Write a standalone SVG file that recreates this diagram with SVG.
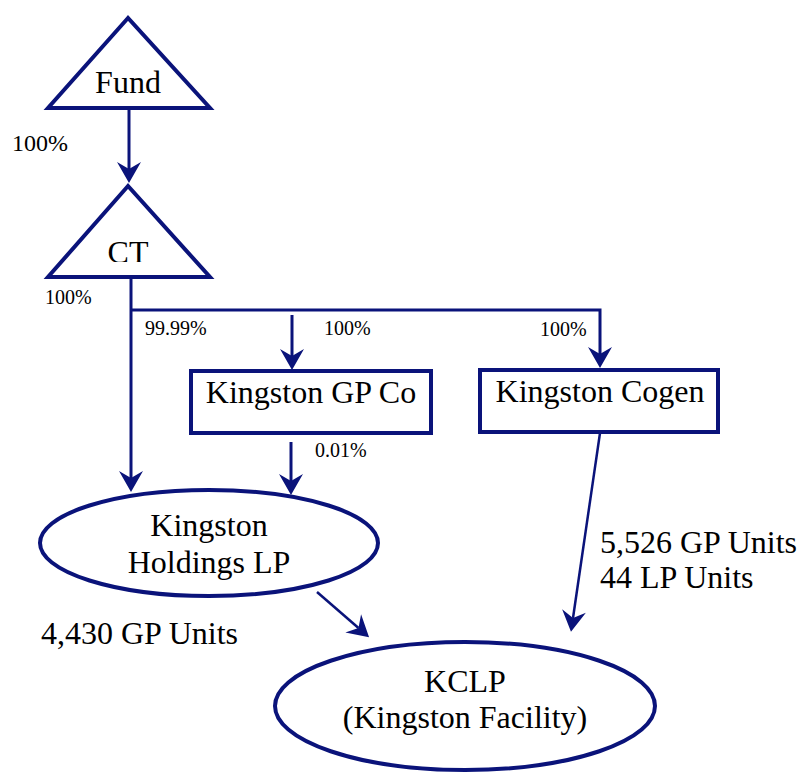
<svg xmlns="http://www.w3.org/2000/svg" width="801" height="773" viewBox="0 0 801 773">
<style>
.sh{fill:#ffffff;stroke:#0a137a;stroke-width:4;}
.ln{fill:none;stroke:#0a137a;stroke-width:3;}
.t{font-family:"Liberation Serif","Times New Roman",serif;font-size:32px;fill:#000;}
.s{font-family:"Liberation Serif","Times New Roman",serif;font-size:20px;fill:#000;}
</style>
<defs>
<marker id="ah" markerUnits="userSpaceOnUse" viewBox="-22 -13 24 26" markerWidth="24" markerHeight="26" refX="-14" refY="0" orient="auto">
<path d="M0,0 L-21,-12 L-14,0 L-21,12 Z" fill="#0a137a"/>
</marker>
<clipPath id="ctclip"><rect x="0" y="0" width="801" height="262"/></clipPath>
</defs>
<g id="connectors">
<line class="ln" x1="129" y1="108" x2="129" y2="169" marker-end="url(#ah)"/>
<line class="ln" x1="131" y1="277" x2="131" y2="478" marker-end="url(#ah)"/>
<polyline class="ln" points="131,310 600,310 600,354" marker-end="url(#ah)"/>
<line class="ln" x1="292" y1="315" x2="292" y2="356" marker-end="url(#ah)"/>
<line class="ln" x1="291" y1="442" x2="291" y2="481" marker-end="url(#ah)"/>
<line class="ln" x1="317" y1="592" x2="358.5" y2="628" marker-end="url(#ah)" style="stroke-width:2.5"/>
<line class="ln" x1="600" y1="433" x2="573" y2="618" marker-end="url(#ah)" style="stroke-width:2.5"/>
</g>
<g id="fund">
<polygon class="sh" points="128,18 48,108 210,108"/>
<text class="t" x="128" y="92.5" text-anchor="middle">Fund</text>
</g>
<g id="ct">
<polygon class="sh" points="128,186 48,277 210,277"/>
<text class="t" x="128" y="263" text-anchor="middle" clip-path="url(#ctclip)">CT</text>
</g>
<g id="kingston-gp-co">
<rect class="sh" x="191" y="371" width="240" height="62"/>
<text class="t" x="311" y="403" text-anchor="middle">Kingston GP Co</text>
</g>
<g id="kingston-cogen">
<rect class="sh" x="480" y="370" width="238" height="62"/>
<text class="t" x="600" y="402" text-anchor="middle">Kingston Cogen</text>
</g>
<g id="kingston-holdings-lp">
<ellipse class="sh" cx="209" cy="543" rx="169" ry="53"/>
<text class="t" x="209" y="536" text-anchor="middle">Kingston</text>
<text class="t" x="209" y="573" text-anchor="middle">Holdings LP</text>
</g>
<g id="kclp">
<ellipse class="sh" cx="465" cy="706" rx="190" ry="64"/>
<text class="t" x="465" y="692" text-anchor="middle">KCLP</text>
<text class="t" x="465" y="728" text-anchor="middle">(Kingston Facility)</text>
</g>
<g id="labels">
<text class="s" x="12" y="151" style="font-size:24px">100%</text>
<text class="s" x="45" y="304">100%</text>
<text class="s" x="145" y="335">99.99%</text>
<text class="s" x="324" y="335">100%</text>
<text class="s" x="540" y="336">100%</text>
<text class="s" x="315" y="457">0.01%</text>
<text class="t" x="41" y="644">4,430 GP Units</text>
<text class="t" x="600" y="553">5,526 GP Units</text>
<text class="t" x="600" y="588">44 LP Units</text>
</g>
</svg>
